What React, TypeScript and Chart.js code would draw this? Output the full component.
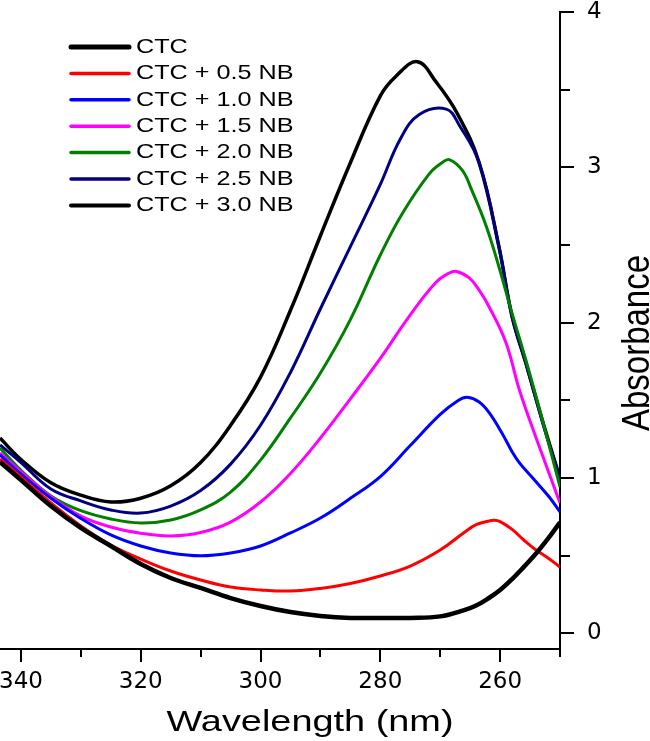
import React, { useEffect, useRef } from "react";
import { Chart, registerables } from "chart.js";

Chart.register(...registerables);

// ---------------- data ----------------
const seriesLabels = [
  "CTC",
  "CTC + 0.5 NB",
  "CTC + 1.0 NB",
  "CTC + 1.5 NB",
  "CTC + 2.0 NB",
  "CTC + 2.5 NB",
  "CTC + 3.0 NB",
];
const seriesColors = ["#000000", "#ff0000", "#0000ff", "#ff00ff", "#008000", "#000080", "#000000"];
const seriesWidths = [4.5, 3, 3, 3, 3, 3, 3.5];
const legendWidths = [5, 3.5, 3.5, 3.5, 3.5, 3.5, 4];

// wavelength (nm) / absorbance for each curve
const ctcWl = [343.5, 340, 335, 330, 325, 320, 315, 310, 305, 300, 295, 290, 285, 280, 275, 270, 266, 264, 262, 260, 258, 256, 254, 252, 250];
const ctcAbs = [1.104, 0.988, 0.82, 0.679, 0.563, 0.447, 0.357, 0.293, 0.228, 0.177, 0.138, 0.113, 0.1, 0.1, 0.1, 0.11, 0.15, 0.18, 0.225, 0.28, 0.35, 0.43, 0.515, 0.61, 0.715];

const nb05Wl = [343.5, 340, 335, 330, 325, 320, 315, 310, 305, 300, 295, 290, 285, 280, 275, 270, 266, 264, 262, 261, 260, 258, 256, 254, 252, 250];
const nb05Abs = [1.123, 1.007, 0.84, 0.692, 0.569, 0.479, 0.402, 0.344, 0.299, 0.28, 0.273, 0.29, 0.322, 0.37, 0.434, 0.537, 0.65, 0.7, 0.722, 0.728, 0.72, 0.67, 0.6, 0.537, 0.486, 0.428];

const nb10Wl = [343.5, 340, 335, 330, 325, 320, 315, 310, 305, 300, 295, 290, 285, 280, 275, 270, 267, 265.5, 263.5, 261.8, 259.7, 258, 256.8, 254.7, 251.8, 250];
const nb10Abs = [1.149, 1.026, 0.87, 0.74, 0.634, 0.563, 0.518, 0.5, 0.518, 0.563, 0.647, 0.743, 0.87, 1.01, 1.21, 1.41, 1.5, 1.52, 1.49, 1.42, 1.29, 1.17, 1.1, 1.007, 0.878, 0.782];

const nb15Wl = [343.5, 340, 335, 330, 325, 320, 315, 310, 305, 300, 295, 290, 285, 280, 275.2, 270.7, 268.5, 267.3, 265.2, 263.5, 261.8, 259, 256.8, 254, 250];
const nb15Abs = [1.162, 1.04, 0.88, 0.755, 0.685, 0.645, 0.628, 0.65, 0.717, 0.846, 1.03, 1.258, 1.51, 1.77, 2.04, 2.26, 2.32, 2.33, 2.29, 2.21, 2.1, 1.87, 1.57, 1.26, 0.84];

const nb20Wl = [343.5, 340, 335, 330, 325, 320, 315, 310, 305, 300, 295, 290, 285, 280, 276.3, 271.8, 269.7, 268.5, 266.3, 264.7, 262.3, 260.2, 258, 255.7, 252.7, 250];
const nb20Abs = [1.194, 1.05, 0.885, 0.79, 0.737, 0.711, 0.73, 0.795, 0.91, 1.116, 1.387, 1.676, 2.02, 2.436, 2.705, 2.96, 3.03, 3.05, 2.98, 2.85, 2.62, 2.36, 2.06, 1.76, 1.34, 0.943];

const nb25Wl = [343.5, 340, 335, 330, 325, 320, 315, 310, 305, 300, 295, 290, 285, 280, 276.7, 273.5, 269, 266.8, 263.5, 260.2, 258, 255.7, 252.7, 250];
const nb25Abs = [1.213, 1.1, 0.93, 0.853, 0.795, 0.775, 0.82, 0.92, 1.09, 1.34, 1.68, 2.09, 2.49, 2.89, 3.18, 3.34, 3.375, 3.27, 3.03, 2.49, 2.04, 1.74, 1.33, 0.99];

const nb30Wl = [343.5, 340, 335, 330, 325, 320, 315, 310, 305, 300, 295, 290, 285, 280, 277.3, 273.8, 270.7, 267.2, 263.5, 260.2, 258, 255.7, 252.7, 250];
const nb30Abs = [1.258, 1.12, 0.97, 0.89, 0.846, 0.87, 0.95, 1.1, 1.34, 1.65, 2.08, 2.56, 3.03, 3.46, 3.59, 3.68, 3.55, 3.35, 3.03, 2.49, 2.04, 1.74, 1.34, 1.0];

const seriesWl = [ctcWl, nb05Wl, nb10Wl, nb15Wl, nb20Wl, nb25Wl, nb30Wl];
const seriesAbs = [ctcAbs, nb05Abs, nb10Abs, nb15Abs, nb20Abs, nb25Abs, nb30Abs];

// ticks
const xMajorTicks = [260, 280, 300, 320, 340];
const xMinorTicks = [250, 270, 290, 310, 330];
const yMajorTicks = [0, 1, 2, 3, 4];
const yMinorTicks = [0.5, 1.5, 2.5, 3.5];

const xTitle = "Wavelength (nm)";
const yTitle = "Absorbance";

const X_MIN = 250;
const X_MAX = 343.5;
const Y_MIN = -0.1;
const Y_MAX = 4;

const decorPlugin = {
  id: "decor",
  afterDraw(chart: any) {
    const ctx = chart.ctx as CanvasRenderingContext2D;
    const xs = chart.scales.x;
    const ys = chart.scales.y;
    ctx.save();
    // minor ticks
    ctx.strokeStyle = "#000";
    ctx.lineWidth = 2;
    ctx.lineCap = "butt";
    xMinorTicks.forEach((v) => {
      const px = Math.round(xs.getPixelForValue(v));
      ctx.beginPath();
      ctx.moveTo(px, xs.top - 1);
      ctx.lineTo(px, xs.top + 8);
      ctx.stroke();
    });
    yMinorTicks.forEach((v) => {
      const py = Math.round(ys.getPixelForValue(v));
      ctx.beginPath();
      ctx.moveTo(ys.left, py);
      ctx.lineTo(ys.left + 10, py);
      ctx.stroke();
    });

    // axis titles
    ctx.fillStyle = "#000";
    ctx.font = '29px "Liberation Sans"';
    ctx.textAlign = "center";
    ctx.textBaseline = "alphabetic";
    const w = ctx.measureText(xTitle).width;
    ctx.save();
    ctx.translate(310, 731);
    ctx.scale(287 / w, 1);
    ctx.fillText(xTitle, 0, 0);
    ctx.restore();

    ctx.save();
    ctx.font = '33px "Liberation Sans"';
    ctx.translate(649, 343);
    ctx.rotate(-Math.PI / 2);
    ctx.scale(1, 1.2);
    ctx.fillText(yTitle, 0, 0);
    ctx.restore();

    // legend
    const ds = chart.data.datasets;
    ds.forEach((d: any, i: number) => {
      const y = 47 + i * 26.4;
      ctx.strokeStyle = d.borderColor;
      ctx.lineWidth = legendWidths[i];
      ctx.lineCap = "round";
      ctx.beginPath();
      ctx.moveTo(71, y);
      ctx.lineTo(129, y);
      ctx.stroke();
      ctx.save();
      ctx.fillStyle = "#000";
      ctx.font = '21px "Liberation Sans"';
      ctx.textAlign = "left";
      ctx.textBaseline = "middle";
      ctx.translate(136, y);
      ctx.scale(1.2, 1);
      ctx.fillText(d.label, 0, 0);
      ctx.restore();
    });
    ctx.restore();
  },
};

export default function App() {
  const ref = useRef<HTMLCanvasElement | null>(null);

  useEffect(() => {
    if (!ref.current) return;
    const datasets = seriesLabels.map((label, i) => ({
      label,
      data: seriesWl[i].map((x, j) => ({ x, y: seriesAbs[i][j] })),
      borderColor: seriesColors[i],
      backgroundColor: seriesColors[i],
      borderWidth: seriesWidths[i],
      pointRadius: 0,
      fill: false,
      tension: 0.4,
      borderJoinStyle: "round" as const,
    }));

    const xTickValues = [...xMajorTicks, ...xMinorTicks].sort((a, b) => a - b);
    const yTickValues = [...yMajorTicks, ...yMinorTicks].sort((a, b) => a - b);

    const chart = new Chart(ref.current, {
      type: "line",
      data: { datasets },
      options: {
        responsive: false,
        animation: false,
        devicePixelRatio: 1,
        layout: { padding: { top: 12, left: 0, right: 0, bottom: 0 } },
        plugins: {
          legend: { display: false },
          tooltip: { enabled: false },
          title: { display: false },
        },
        scales: {
          x: {
            type: "linear",
            position: "bottom",
            reverse: true,
            min: X_MIN,
            max: X_MAX,
            afterBuildTicks: (scale: any) => {
              scale.ticks = xTickValues.map((v) => ({ value: v }));
            },
            afterFit: (scale: any) => {
              scale.height = 92;
              scale.paddingLeft = 0;
              scale.paddingRight = 0;
            },
            border: { display: true, color: "#000", width: 2 },
            grid: {
              display: true,
              drawOnChartArea: false,
              drawTicks: true,
              tickLength: 13,
              tickWidth: 2,
              lineWidth: 2,
              color: "#000",
              tickColor: (c: any) =>
                c.tick && xMajorTicks.includes(c.tick.value) ? "#000" : "rgba(0,0,0,0)",
            },
            ticks: {
              autoSkip: false,
              maxRotation: 0,
              padding: 6,
              color: "#000",
              font: { family: '"DejaVu Sans"', size: 23 },
              callback: (v: any) => (xMajorTicks.includes(Number(v)) ? String(v) : ""),
            },
          },
          y: {
            type: "linear",
            position: "right",
            min: Y_MIN,
            max: Y_MAX,
            afterBuildTicks: (scale: any) => {
              scale.ticks = yTickValues.map((v) => ({ value: v }));
            },
            afterFit: (scale: any) => {
              scale.width = 90;
              scale.paddingTop = 0;
              scale.paddingBottom = 0;
            },
            border: { display: true, color: "#000", width: 2 },
            grid: {
              display: true,
              drawOnChartArea: false,
              drawTicks: true,
              tickLength: 14,
              tickWidth: 2,
              lineWidth: 2,
              color: "#000",
              tickColor: (c: any) =>
                c.tick && yMajorTicks.includes(c.tick.value) ? "#000" : "rgba(0,0,0,0)",
            },
            ticks: {
              autoSkip: false,
              padding: 13,
              color: "#000",
              font: { family: '"DejaVu Sans"', size: 23 },
              callback: (v: any) => (yMajorTicks.includes(Number(v)) ? String(v) : ""),
            },
          },
        },
      } as any,
      plugins: [decorPlugin],
    });
    return () => chart.destroy();
  }, []);

  return (
    <div style={{ position: "absolute", left: 0, top: 0, width: 650, height: 741, background: "#fff" }}>
      <canvas ref={ref} width={650} height={741} style={{ display: "block" }} />
    </div>
  );
}
